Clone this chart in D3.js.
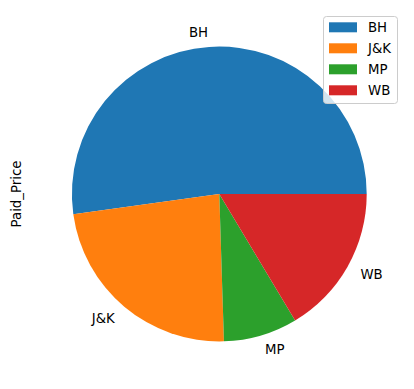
<!DOCTYPE html>
<html>
<head>
<meta charset="utf-8">
<script src="https://cdn.jsdelivr.net/npm/d3@7"></script>
<style>
  body { margin: 0; background: #fff; }
  text { font-family: "DejaVu Sans", sans-serif; }
</style>
</head>
<body>
<div id="chart"></div>
<script>
// data (share of Paid_Price per state)
var states = ["BH", "J&K", "MP", "WB"];
var paidPrice = [5220, 2330, 810, 1640];
var colors = ["#1f77b4", "#ff7f0e", "#2ca02c", "#d62728"];

var width = 414, height = 389;
var cx = 219.3, cy = 194, r = 147.4;

var svg = d3.select("#chart").append("svg")
  .attr("width", width)
  .attr("height", height);

var color = d3.scaleOrdinal().domain(states).range(colors);

// matplotlib style: start at 3 o'clock, go counter-clockwise
var pie = d3.pie()
  .sort(null)
  .startAngle(Math.PI / 2)
  .endAngle(Math.PI / 2 - 2 * Math.PI);

var arcs = pie(paidPrice.map(function (v, i) { return { state: states[i], value: v }; })
  .map(function (d) { return d.value; }));

var arc = d3.arc().innerRadius(0).outerRadius(r);

var g = svg.append("g").attr("transform", "translate(" + cx + "," + cy + ")");

g.selectAll(".slice")
  .data(arcs)
  .enter()
  .append("path")
    .attr("class", "slice")
    .attr("d", arc)
    .attr("fill", function (d, i) { return color(states[i]); });

// wedge labels at 1.1 * radius
g.selectAll(".lbl")
  .data(arcs)
  .enter()
  .append("text")
    .attr("class", "lbl")
    .attr("x", function (d) { var a = (d.startAngle + d.endAngle) / 2; return 1.1 * r * Math.sin(a); })
    .attr("y", function (d) { var a = (d.startAngle + d.endAngle) / 2; return -1.1 * r * Math.cos(a); })
    .attr("dy", "0.35em")
    .attr("text-anchor", function (d) {
      var a = (d.startAngle + d.endAngle) / 2;
      return Math.sin(a) < 0 ? "end" : "start";
    })
    .attr("font-size", "13.3px")
    .attr("fill", "#000")
    .text(function (d, i) { return states[i]; });

// y label
svg.append("text")
  .attr("transform", "translate(21," + cy + ") rotate(-90)")
  .attr("text-anchor", "middle")
  .attr("font-size", "13.3px")
  .text("Paid_Price");

// legend
var legend = svg.append("g").attr("transform", "translate(323.5,16.5)");
legend.append("rect")
  .attr("width", 74)
  .attr("height", 87)
  .attr("rx", 3)
  .attr("fill", "#fff")
  .attr("fill-opacity", 0.8)
  .attr("stroke", "#ccc")
  .attr("stroke-width", 1);

var rows = legend.selectAll(".row")
  .data(states)
  .enter()
  .append("g")
    .attr("class", "row")
    .attr("transform", function (d, i) { return "translate(0," + (10.8 + 21 * i) + ")"; });

rows.append("rect")
  .attr("x", 5.5)
  .attr("y", -5)
  .attr("width", 28)
  .attr("height", 10)
  .attr("fill", function (d) { return color(d); });

rows.append("text")
  .attr("x", 44.5)
  .attr("dy", "0.35em")
  .attr("font-size", "13.3px")
  .text(function (d) { return d; });
</script>
</body>
</html>
